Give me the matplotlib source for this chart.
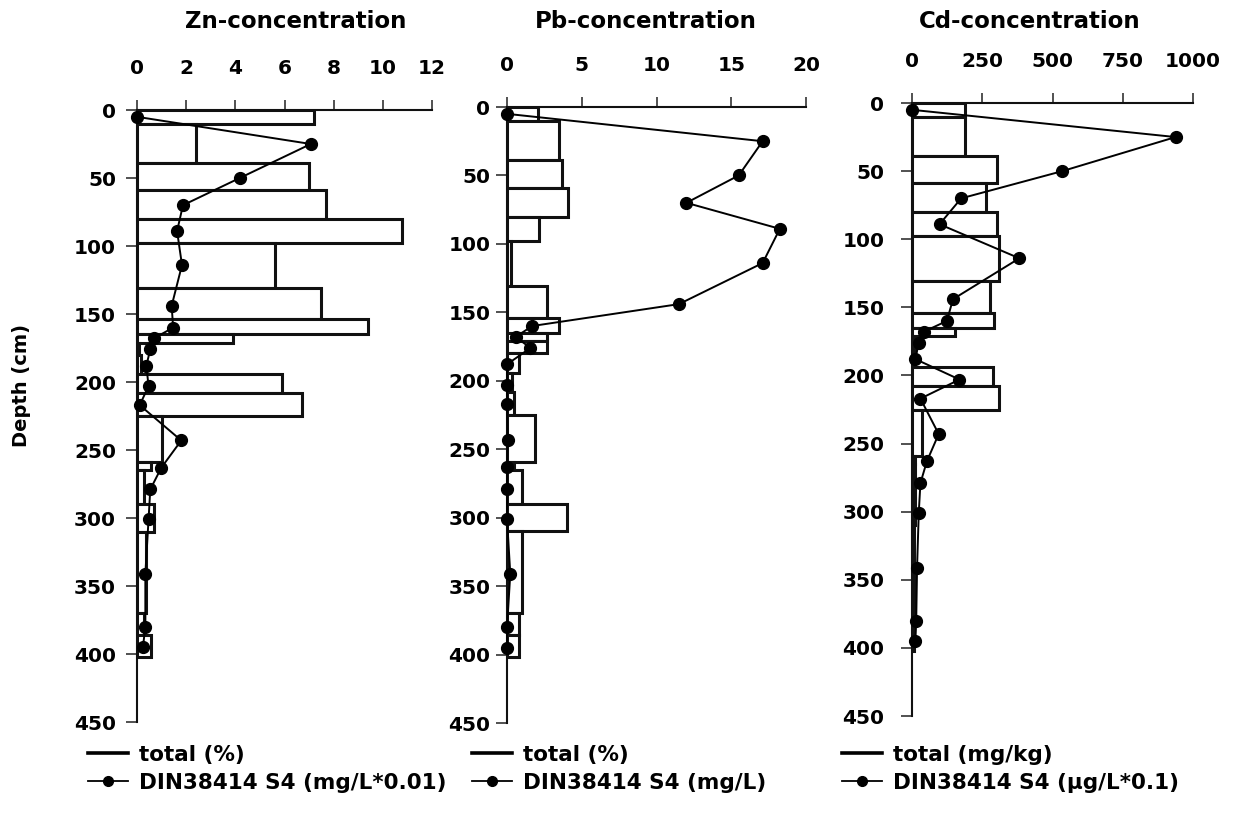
import matplotlib

matplotlib.use("Agg")
import matplotlib.pyplot as plt
import numpy as np
from matplotlib.lines import Line2D

# sample layers (cm) -- one bar per layer
layer_top = [0, 10, 39, 59, 80, 98, 131, 154, 165, 171, 180, 194, 208, 225, 259, 265, 290, 310, 370, 386]
layer_bottom = [10, 39, 59, 80, 98, 131, 154, 165, 171, 180, 194, 208, 225, 259, 265, 290, 310, 370, 386, 402]
# depth of the leaching (DIN38414 S4) samples
sample_depth = [5, 25, 50, 70, 89, 114, 144, 160, 168, 176, 188, 203, 217, 243, 263, 279, 301, 341, 380, 395]

zn_total = [7.2, 2.4, 7.0, 7.7, 10.8, 5.6, 7.5, 9.4, 3.9, 0.1, 0.15, 5.9, 6.7, 1.0, 0.55, 0.27, 0.68, 0.35, 0.3, 0.55]
zn_s4 = [0, 7.07, 4.18, 1.87, 1.63, 1.83, 1.41, 1.47, 0.68, 0.54, 0.38, 0.47, 0.11, 1.8, 0.99, 0.54, 0.47, 0.34, 0.34, 0.24]

pb_total = [2.1, 3.5, 3.65, 4.1, 2.15, 0.3, 2.7, 3.5, 2.7, 2.7, 0.8, 0.35, 0.45, 1.9, 0.5, 1.03, 3.98, 1.03, 0.8, 0.8]
pb_s4 = [0, 17.1, 15.5, 12.0, 18.25, 17.1, 11.5, 1.68, 0.58, 1.57, 0, 0, 0, 0.05, 0, 0, 0, 0.22, 0, 0]

cd_total = [190, 190, 304, 264, 302, 308, 276, 293, 154, 12, 12, 288, 308, 35, 12, 10, 10, 8, 8, 6]
cd_s4 = [0, 938, 535, 175, 98, 382, 146, 124, 41, 24, 12, 169, 30, 95, 53, 30, 24, 18, 15, 12]

zn_ticks = [0, 2, 4, 6, 8, 10, 12]
pb_ticks = [0, 5, 10, 15, 20]
cd_ticks = [0, 250, 500, 750, 1000]
depth_ticks = [0, 50, 100, 150, 200, 250, 300, 350, 400, 450]

plt.rcParams["font.family"] = "DejaVu Sans"
plt.rcParams["font.weight"] = "bold"

W, H = 1234, 813
fig = plt.figure(figsize=(W / 100, H / 100), dpi=100)


def px_axes(left, right, top, bottom):
    return fig.add_axes([left / W, 1 - bottom / H, (right - left) / W, (bottom - top) / H])


panels = [
    dict(box=(137, 432, 110, 722), total=zn_total, s4=zn_s4, ticks=zn_ticks,
         title="Zn-concentration", title_xy=(296, 21), ypad=7,
         labels=("total (%)", "DIN38414 S4 (mg/L*0.01)"), leg_xy=(88, 745)),
    dict(box=(507, 806, 107, 723), total=pb_total, s4=pb_s4, ticks=pb_ticks,
         title="Pb-concentration", title_xy=(646, 21), ypad=4,
         labels=("total (%)", "DIN38414 S4 (mg/L)"), leg_xy=(472, 745)),
    dict(box=(912, 1193, 103, 716), total=cd_total, s4=cd_s4, ticks=cd_ticks,
         title="Cd-concentration", title_xy=(1030, 22), ypad=12,
         labels=("total (mg/kg)", "DIN38414 S4 (\u00b5g/L*0.1)"), leg_xy=(842, 745)),
]

heights = np.subtract(layer_bottom, layer_top)

for p in panels:
    ax = px_axes(*p["box"])
    ax.barh(layer_top, p["total"], height=heights, align="edge", color="white",
            edgecolor="#111111", linewidth=2.2, zorder=2)
    ax.plot(p["s4"], sample_depth, "-o", color="black", lw=1.4, ms=8.5, zorder=3, clip_on=False)
    ax.set_xlim(0, p["ticks"][-1])
    ax.set_ylim(450, 0)
    ax.set_xticks(p["ticks"])
    ax.set_yticks(depth_ticks)
    ax.xaxis.tick_top()
    for side in ("right", "bottom"):
        ax.spines[side].set_visible(False)
    for side in ("top", "left"):
        ax.spines[side].set_linewidth(1.5)
        ax.spines[side].set_color("#111111")
    ax.tick_params(axis="x", direction="out", length=7, width=1.2, pad=16, labelsize=14.5, color="#333333")
    ax.tick_params(axis="y", direction="out", length=8, width=1.2, pad=p["ypad"], labelsize=14.5, color="#333333")
    fig.text(p["title_xy"][0] / W, 1 - p["title_xy"][1] / H, p["title"], ha="center", va="center",
             fontsize=16.5, fontweight="bold")
    handles = [
        Line2D([], [], color="black", lw=2.6),
        Line2D([], [], color="black", lw=1.3, marker="o", ms=7),
    ]
    fig.legend(handles, p["labels"], loc="upper left",
               bbox_to_anchor=(p["leg_xy"][0] / W, 1 - p["leg_xy"][1] / H),
               frameon=False, fontsize=15.5, handlelength=1.85, handletextpad=0.5,
               labelspacing=0.35, borderpad=0, borderaxespad=0)

fig.text(22 / W, 1 - 385 / H, "Depth (cm)", rotation=90, ha="center", va="center",
         fontsize=14, fontweight="bold")

fig.savefig("out.png", dpi=100)
